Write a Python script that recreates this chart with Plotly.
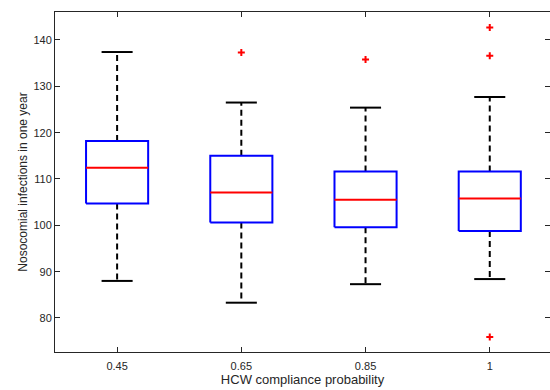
import plotly.graph_objects as go

# Box statistics per HCW compliance probability
categories = ["0.45", "0.65", "0.85", "1"]
q1 = [104.7, 100.6, 99.6, 98.8]
medians = [112.4, 107.1, 105.5, 105.8]
q3 = [118.2, 115.0, 111.6, 111.6]
lower_whisker = [88.0, 83.3, 87.3, 88.4]
upper_whisker = [137.4, 126.5, 125.4, 127.7]

# Outliers: (category, value)
outlier_cats = ["0.65", "0.85", "1", "1", "1"]
outlier_vals = [137.3, 135.8, 142.7, 136.6, 75.9]

BOX_HALF = 0.25
CAP_HALF = 0.125

pos = {c: i + 1 for i, c in enumerate(categories)}

box_x, box_y = [], []
med_x, med_y = [], []
wh_x, wh_y = [], []
cap_x, cap_y = [], []
for c, a, m, b, lo, hi in zip(categories, q1, medians, q3, lower_whisker, upper_whisker):
    p = pos[c]
    box_x += [p - BOX_HALF, p + BOX_HALF, p + BOX_HALF, p - BOX_HALF, p - BOX_HALF, None]
    box_y += [a, a, b, b, a, None]
    med_x += [p - BOX_HALF, p + BOX_HALF, None]
    med_y += [m, m, None]
    wh_x += [p, p, None, p, p, None]
    wh_y += [b, hi, None, a, lo, None]
    cap_x += [p - CAP_HALF, p + CAP_HALF, None, p - CAP_HALF, p + CAP_HALF, None]
    cap_y += [hi, hi, None, lo, lo, None]

fig = go.Figure()
fig.add_trace(go.Scatter(x=wh_x, y=wh_y, mode="lines",
                         line=dict(color="black", width=2, dash="6px,4px"),
                         hoverinfo="skip"))
fig.add_trace(go.Scatter(x=cap_x, y=cap_y, mode="lines",
                         line=dict(color="black", width=2), hoverinfo="skip"))
fig.add_trace(go.Scatter(x=box_x, y=box_y, mode="lines",
                         line=dict(color="#0000ff", width=2), hoverinfo="skip"))
fig.add_trace(go.Scatter(x=med_x, y=med_y, mode="lines",
                         line=dict(color="#ff0000", width=2), hoverinfo="skip"))
fig.add_trace(go.Scatter(x=[pos[c] for c in outlier_cats], y=outlier_vals,
                         mode="markers",
                         marker=dict(symbol="cross-thin", size=5,
                                     line=dict(color="#ff0000", width=2)),
                         hoverinfo="skip"))

axis_color = "#262626"
font_family = "Liberation Sans, Arial, Helvetica, sans-serif"

fig.update_layout(
    width=550, height=390,
    margin=dict(l=55, r=0, t=12, b=38),
    paper_bgcolor="white", plot_bgcolor="white",
    showlegend=False,
    font=dict(family=font_family, color=axis_color, size=11),
)
fig.update_xaxes(
    range=[0.5, 4.485],
    tickvals=[pos[c] for c in categories], ticktext=categories,
    ticks="inside", ticklen=5, tickcolor=axis_color, tickwidth=1,
    showline=True, linecolor=axis_color, linewidth=1, mirror="ticks",
    showgrid=False, zeroline=False,
    ticklabelstandoff=4,
    tickfont=dict(size=11, color=axis_color),
    title=dict(text="HCW compliance probability", font=dict(size=13, color=axis_color), standoff=2),
)
fig.update_yaxes(
    range=[72.66, 146.04],
    tickvals=[80, 90, 100, 110, 120, 130, 140],
    ticks="inside", ticklen=5, tickcolor=axis_color, tickwidth=1,
    showline=True, linecolor=axis_color, linewidth=1, mirror="ticks",
    showgrid=False, zeroline=False,
    tickfont=dict(size=11, color=axis_color),
    title=dict(text="Nosocomial infections in one year", font=dict(size=12, color=axis_color), standoff=3),
)

fig.write_html("out.html")
